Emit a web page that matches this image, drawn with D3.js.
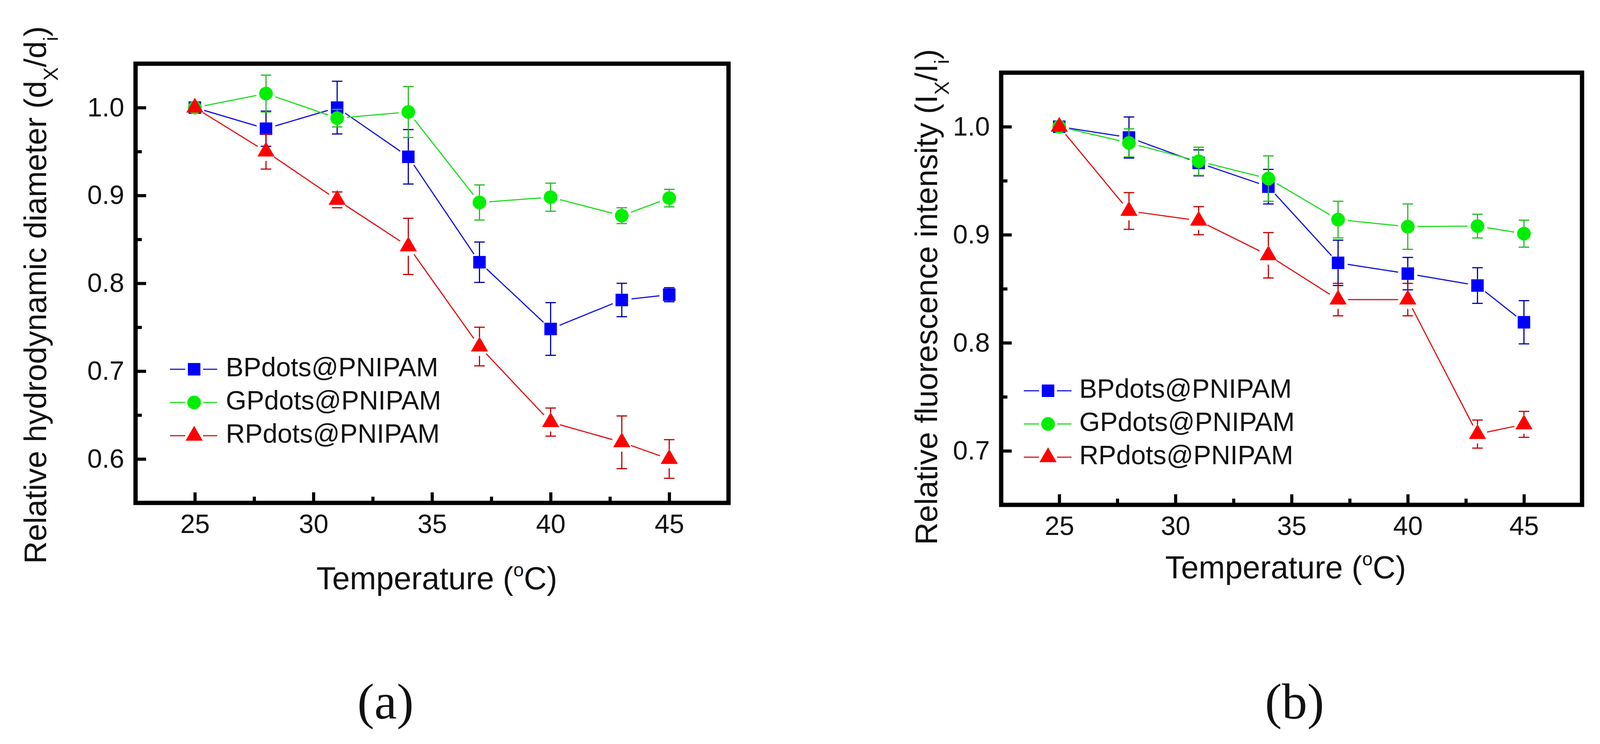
<!DOCTYPE html>
<html>
<head>
<meta charset="utf-8">
<script src="https://cdn.jsdelivr.net/npm/d3@7"></script>
<style>
  body { margin: 0; background: #fff; }
  text { font-family: "Liberation Sans", Arial, sans-serif; fill: #111; }
</style>
</head>
<body>
<script>
// Data
const temps = [25, 28, 31, 34, 37, 40, 43, 45];
const seriesNames = ["BPdots@PNIPAM", "GPdots@PNIPAM", "RPdots@PNIPAM"];
const xTicks = [25, 30, 35, 40, 45];
const xMinor = [27.5, 32.5, 37.5, 42.5];
const diamTicks = [0.6, 0.7, 0.8, 0.9, 1.0];
const diamMinor = [0.65, 0.75, 0.85, 0.95];
const fluorTicks = [0.7, 0.8, 0.9, 1.0];
const fluorMinor = [0.75, 0.85, 0.95];

// (a) relative hydrodynamic diameter
const diamBP = [1.0, 0.976, 1.0, 0.944, 0.824, 0.748, 0.781, 0.787];
const diamBPErr = [0, 0.02, 0.03, 0.031, 0.023, 0.03, 0.019, 0.008];
const diamGP = [1.0, 1.016, 0.988, 0.995, 0.892, 0.898, 0.877, 0.897];
const diamGPErr = [0, 0.021, 0.01, 0.029, 0.02, 0.016, 0.009, 0.01];
const diamRP = [1.0, 0.950, 0.895, 0.842, 0.728, 0.642, 0.619, 0.600];
const diamRPErr = [0, 0.02, 0.009, 0.032, 0.022, 0.016, 0.030, 0.022];

// (b) relative fluorescence intensity
const fluorBP = [1.0, 0.990, 0.9665, 0.9445, 0.874, 0.864, 0.853, 0.819];
const fluorBPErr = [0, 0.019, 0.012, 0.016, 0.021, 0.015, 0.0165, 0.02];
const fluorGP = [1.0, 0.985, 0.968, 0.952, 0.914, 0.9075, 0.908, 0.901];
const fluorGPErr = [0, 0.013, 0.013, 0.021, 0.017, 0.021, 0.011, 0.0125];
const fluorRP = [1.0, 0.922, 0.913, 0.881, 0.840, 0.840, 0.7155, 0.7245];
const fluorRPErr = [0, 0.017, 0.013, 0.021, 0.015, 0.015, 0.013, 0.012];

// Styles for the three series
const styles = [
  { shape: "square",   fill: "#0000ff", line: "#1515e0", err: "#0000a8", gap: 16 },
  { shape: "circle",   fill: "#00ee00", line: "#22dd22", err: "#22bb22", gap: 17 },
  { shape: "triangle", fill: "#ff0000", line: "#e01515", err: "#c00000", gap: 24 }
];

const W = 4132, H = 1904;
const svg = d3.select("body").append("svg")
  .attr("width", W)
  .attr("height", H)
  .style("display", "block");

svg.append("rect").attr("width", W).attr("height", H).attr("fill", "#fff");

function drawMarker(g, shape, x, y, color) {
  if (shape === "square") {
    g.append("rect")
      .attr("x", x - 16).attr("y", y - 16)
      .attr("width", 32).attr("height", 32)
      .attr("fill", color);
  } else if (shape === "circle") {
    g.append("circle")
      .attr("cx", x).attr("cy", y).attr("r", 17.5)
      .attr("fill", color);
  } else {
    // triangle with centroid on the point
    g.append("path")
      .attr("d", `M${x},${y - 25.3}L${x - 22},${y + 12.7}L${x + 22},${y + 12.7}Z`)
      .attr("fill", color);
  }
}

// line between two points, cut back near the markers
function gapLine(g, x0, y0, x1, y1, cut, color) {
  const dx = x1 - x0, dy = y1 - y0;
  const len = Math.sqrt(dx * dx + dy * dy);
  if (len <= cut * 2) return;
  const ux = dx / len, uy = dy / len;
  g.append("line")
    .attr("x1", x0 + ux * cut).attr("y1", y0 + uy * cut)
    .attr("x2", x1 - ux * cut).attr("y2", y1 - uy * cut)
    .attr("stroke", color)
    .attr("stroke-width", 3);
}

function drawPanel(cfg) {
  const f = cfg.frame;
  const x = d3.scaleLinear().domain([22.5, 47.5]).range([f.left, f.right]);
  const y = d3.scaleLinear().domain(cfg.yDomain).range([f.bottom, f.top]);
  const g = svg.append("g");

  // axes with inward ticks
  const xAxis = g.append("g")
    .attr("transform", `translate(0,${f.bottom})`)
    .call(d3.axisBottom(x).tickValues(xTicks).tickSize(-27).tickPadding(29).tickFormat(d3.format("d")));
  const xAxisMinor = g.append("g")
    .attr("transform", `translate(0,${f.bottom})`)
    .call(d3.axisBottom(x).tickValues(xMinor).tickSize(-16).tickFormat(""));
  const yAxis = g.append("g")
    .attr("transform", `translate(${f.left},0)`)
    .call(d3.axisLeft(y).tickValues(cfg.yTicks).tickSize(-27).tickPadding(29).tickFormat(d3.format(".1f")));
  const yAxisMinor = g.append("g")
    .attr("transform", `translate(${f.left},0)`)
    .call(d3.axisLeft(y).tickValues(cfg.yMinor).tickSize(-16).tickFormat(""));

  [xAxis, xAxisMinor, yAxis, yAxisMinor].forEach(a => {
    a.select(".domain").remove();
    a.selectAll("line").attr("stroke", "#000").attr("stroke-width", 8);
    a.selectAll("text")
      .attr("fill", "#111")
      .style("font-family", "'Liberation Sans', Arial, sans-serif")
      .style("font-size", "68px");
  });

  // frame
  g.append("rect")
    .attr("x", f.left).attr("y", f.top)
    .attr("width", f.right - f.left).attr("height", f.bottom - f.top)
    .attr("fill", "none")
    .attr("stroke", "#000")
    .attr("stroke-width", 11);

  // series
  cfg.series.forEach((s, k) => {
    const st = styles[k];
    const sg = g.append("g");
    const pts = temps.map((t, i) => [x(t), y(s.values[i])]);
    for (let i = 0; i < pts.length - 1; i++) {
      gapLine(sg, pts[i][0], pts[i][1], pts[i + 1][0], pts[i + 1][1], 25, st.line);
    }
    temps.forEach((t, i) => {
      const e = s.errs[i];
      if (!e) return;
      const px = x(t), py = y(s.values[i]);
      const yt = y(s.values[i] + e), yb = y(s.values[i] - e);
      const eg = sg.append("g").attr("stroke", st.err).attr("stroke-width", 3);
      if (yt < py - st.gap) eg.append("line").attr("x1", px).attr("x2", px).attr("y1", yt).attr("y2", py - st.gap);
      if (yb > py + st.gap) eg.append("line").attr("x1", px).attr("x2", px).attr("y1", py + st.gap).attr("y2", yb);
      eg.append("line").attr("x1", px - 13.5).attr("x2", px + 13.5).attr("y1", yt).attr("y2", yt);
      eg.append("line").attr("x1", px - 13.5).attr("x2", px + 13.5).attr("y1", yb).attr("y2", yb);
    });
    pts.forEach(p => drawMarker(sg, st.shape, p[0], p[1], st.fill));
  });

  // legend
  const L = cfg.legend;
  seriesNames.forEach((name, k) => {
    const st = styles[k];
    const ly = L.top + k * 85;
    g.append("line").attr("x1", L.x0).attr("x2", L.mx - 23).attr("y1", ly).attr("y2", ly)
      .attr("stroke", st.line).attr("stroke-width", 3);
    g.append("line").attr("x1", L.mx + 23).attr("x2", L.x1).attr("y1", ly).attr("y2", ly)
      .attr("stroke", st.line).attr("stroke-width", 3);
    drawMarker(g, st.shape, L.mx, ly, st.fill);
    g.append("text")
      .attr("x", L.tx).attr("y", ly + 18)
      .style("font-size", "68px")
      .text(name);
  });

  // x title
  const xt = g.append("text")
    .attr("x", cfg.xTitle.x).attr("y", cfg.xTitle.y)
    .style("font-size", "81px");
  xt.append("tspan").text("Temperature (");
  xt.append("tspan").attr("dy", -33).style("font-size", "48px").text("o");
  xt.append("tspan").attr("dy", 33).text("C)");

  // y title, rotated
  const yt = g.append("text")
    .attr("transform", `translate(${cfg.yTitle.x},${cfg.yTitle.y}) rotate(-90)`)
    .attr("text-anchor", "middle")
    .style("font-size", "80px");
  yt.append("tspan").text(cfg.yTitle.main + " (" + cfg.yTitle.sym);
  yt.append("tspan").attr("dy", 30).style("font-size", "52px").text("X");
  yt.append("tspan").attr("dy", -30).text("/" + cfg.yTitle.sym);
  yt.append("tspan").attr("dy", 30).style("font-size", "52px").text("i");
  yt.append("tspan").attr("dy", -30).text(")");

  // panel label
  g.append("text")
    .attr("x", cfg.label.x).attr("y", cfg.label.y)
    .attr("text-anchor", "middle")
    .style("font-family", "'Liberation Serif', 'Times New Roman', serif")
    .style("font-size", "130px")
    .text(cfg.label.text);
}

drawPanel({
  frame: { left: 347, right: 1865, top: 163, bottom: 1287 },
  yDomain: [0.55, 1.05],
  yTicks: diamTicks,
  yMinor: diamMinor,
  series: [
    { values: diamBP, errs: diamBPErr },
    { values: diamGP, errs: diamGPErr },
    { values: diamRP, errs: diamRPErr }
  ],
  legend: { x0: 435, x1: 556, mx: 497, tx: 578, top: 945 },
  xTitle: { x: 810, y: 1508 },
  yTitle: { x: 118, y: 755, main: "Relative hydrodynamic diameter", sym: "d" },
  label: { x: 987, y: 1839, text: "(a)" }
});

drawPanel({
  frame: { left: 2563, right: 4050, top: 186, bottom: 1292 },
  yDomain: [0.65, 1.05],
  yTicks: fluorTicks,
  yMinor: fluorMinor,
  series: [
    { values: fluorBP, errs: fluorBPErr },
    { values: fluorGP, errs: fluorGPErr },
    { values: fluorRP, errs: fluorRPErr }
  ],
  legend: { x0: 2621, x1: 2743, mx: 2683, tx: 2763, top: 1000 },
  xTitle: { x: 2983, y: 1480 },
  yTitle: { x: 2399, y: 760, main: "Relative fluorescence intensity", sym: "I" },
  label: { x: 3314, y: 1839, text: "(b)" }
});
</script>
</body>
</html>
